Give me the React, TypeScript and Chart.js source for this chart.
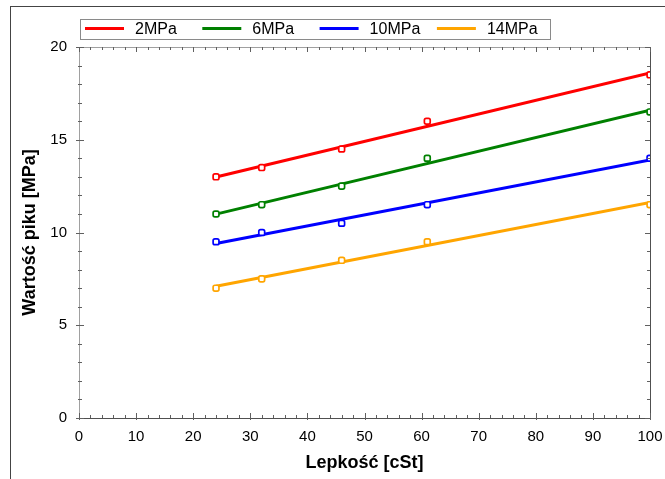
import React, { useEffect, useRef } from "react";
import { Chart, registerables } from "chart.js";

Chart.register(...registerables);

// ---- data ----
const viscosity = [24, 32, 46, 61, 100];
const seriesLabels = ["2MPa", "6MPa", "10MPa", "14MPa"];
const peak2MPa = [13, 13.5, 14.5, 16, 18.5];
const peak6MPa = [11, 11.5, 12.5, 14, 16.5];
const peak10MPa = [9.5, 10, 10.5, 11.5, 14];
const peak14MPa = [7, 7.5, 8.5, 9.5, 11.5];
const seriesColors = ["#ff0000", "#008000", "#0000ff", "#ffa500"];
const xAxisTitle = "Lepkość [cSt]";
const yAxisTitle = "Wartość piku [MPa]";
const xMin = 0;
const xMax = 100;
const xStep = 10;
const yMin = 0;
const yMax = 20;
const yStep = 5;

const seriesValues = [peak2MPa, peak6MPa, peak10MPa, peak14MPa];

const FONT = "'Liberation Sans', Arial, sans-serif";

// least squares linear fit of a series
function linearFit(xs: number[], ys: number[]) {
  const n = xs.length;
  const mx = xs.reduce((a, b) => a + b, 0) / n;
  const my = ys.reduce((a, b) => a + b, 0) / n;
  let sxy = 0;
  let sxx = 0;
  for (let i = 0; i < n; i++) {
    sxy += (xs[i] - mx) * (ys[i] - my);
    sxx += (xs[i] - mx) * (xs[i] - mx);
  }
  const slope = sxy / sxx;
  return { slope, intercept: my - slope * mx };
}

const axisFramePlugin = {
  id: "axisFrame",
  afterDatasetsDraw(chart: any) {
    const { ctx, chartArea } = chart;
    const { left, right, top, bottom } = chartArea;
    const xs = chart.scales.x;
    const ys = chart.scales.y;
    ctx.save();
    ctx.lineWidth = 1;
    // frame
    ctx.strokeStyle = "#a0a0a0";
    ctx.beginPath();
    ctx.moveTo(left + 0.5, bottom + 0.5);
    ctx.lineTo(left + 0.5, top + 0.5);
    ctx.lineTo(right + 0.5, top + 0.5);
    ctx.stroke();
    ctx.strokeStyle = "#505050";
    ctx.beginPath();
    ctx.moveTo(right + 0.5, top + 0.5);
    ctx.lineTo(right + 0.5, bottom + 0.5);
    ctx.lineTo(left + 0.5, bottom + 0.5);
    ctx.stroke();
    // ticks
    ctx.strokeStyle = "#606060";
    ctx.beginPath();
    for (let v = xMin; v <= xMax + 1e-9; v += xStep / 5) {
      const px = Math.round(xs.getPixelForValue(v)) + 0.5;
      const major = Math.abs(v / xStep - Math.round(v / xStep)) < 1e-6;
      ctx.moveTo(px, bottom + (major ? 2 : 0));
      ctx.lineTo(px, bottom - (major ? 5 : 3));
      ctx.moveTo(px, top);
      ctx.lineTo(px, top + (major ? 5 : 3));
    }
    for (let v = yMin; v <= yMax + 1e-9; v += yStep / 5) {
      const py = Math.round(ys.getPixelForValue(v)) + 0.5;
      const major = Math.abs(v / yStep - Math.round(v / yStep)) < 1e-6;
      ctx.moveTo(left - (major ? 3 : 1), py);
      ctx.lineTo(left + (major ? 5 : 3), py);
      ctx.moveTo(right, py);
      ctx.lineTo(right - (major ? 5 : 3), py);
    }
    ctx.stroke();
    ctx.restore();
  },
};

const boxedLegendPlugin = {
  id: "boxedLegend",
  afterDraw(chart: any) {
    const { ctx } = chart;
    const boxLeft = 80.5;
    const boxTop = 19.5;
    const boxW = 470;
    const boxH = 20;
    const colW = 117.3;
    const lineY = 28.5;
    ctx.save();
    ctx.strokeStyle = "#8a8a8a";
    ctx.lineWidth = 1;
    ctx.strokeRect(boxLeft, boxTop, boxW, boxH);
    ctx.font = `16px ${FONT}`;
    ctx.textBaseline = "middle";
    ctx.textAlign = "left";
    seriesLabels.forEach((label, i) => {
      const x0 = 85 + i * colW;
      ctx.strokeStyle = seriesColors[i];
      ctx.lineWidth = 3;
      ctx.beginPath();
      ctx.moveTo(x0, lineY);
      ctx.lineTo(x0 + 39, lineY);
      ctx.stroke();
      ctx.fillStyle = "#000";
      ctx.fillText(label, x0 + 50, 29.5);
    });
    ctx.restore();
  },
};

export default function App() {
  const canvasRef = useRef<HTMLCanvasElement | null>(null);

  useEffect(() => {
    if (!canvasRef.current) return;
    const datasets: any[] = [];
    seriesValues.forEach((vals, i) => {
      const fit = linearFit(viscosity, vals);
      const x0 = Math.min(...viscosity);
      const x1 = Math.max(...viscosity);
      datasets.push({
        type: "line",
        label: seriesLabels[i] + " fit",
        data: [
          { x: x0, y: fit.intercept + fit.slope * x0 },
          { x: x1, y: fit.intercept + fit.slope * x1 },
        ],
        borderColor: seriesColors[i],
        borderWidth: 3,
        pointRadius: 0,
        fill: false,
        order: 2,
      });
      datasets.push({
        type: "scatter",
        label: seriesLabels[i],
        data: viscosity.map((x, j) => ({ x, y: vals[j] })),
        borderColor: seriesColors[i],
        backgroundColor: "#ffffff",
        pointStyle: "rectRounded",
        pointRadius: 3.4,
        borderWidth: 1.7,
        showLine: false,
        order: 1,
      });
    });

    const chart = new Chart(canvasRef.current, {
      type: "scatter",
      data: { datasets },
      options: {
        animation: false,
        responsive: false,
        maintainAspectRatio: false,
        layout: { padding: { top: 47, right: 15, bottom: 0, left: 0 } },
        plugins: {
          legend: { display: false },
          tooltip: { enabled: false },
        },
        scales: {
          x: {
            type: "linear",
            min: xMin,
            max: xMax,
            grid: { display: false, drawTicks: false },
            border: { display: false },
            ticks: {
              stepSize: xStep,
              padding: 10,
              color: "#000",
              font: { family: FONT, size: 15 },
              maxRotation: 0,
            },
            title: {
              display: true,
              text: xAxisTitle,
              color: "#000",
              font: { family: FONT, size: 18, weight: "bold" },
              padding: { top: 0, bottom: 5 },
            },
            afterFit: (s: any) => {
              s.height = 61;
              s.paddingLeft = 0;
              s.paddingRight = 0;
            },
          },
          y: {
            type: "linear",
            min: yMin,
            max: yMax,
            grid: { display: false, drawTicks: false },
            border: { display: false },
            ticks: {
              stepSize: yStep,
              padding: 12,
              color: "#000",
              font: { family: FONT, size: 15 },
            },
            title: {
              display: true,
              text: yAxisTitle,
              color: "#000",
              font: { family: FONT, size: 18, weight: "bold" },
              padding: { top: 19, bottom: 0 },
            },
            afterFit: (s: any) => {
              s.width = 79;
              s.paddingTop = 0;
              s.paddingBottom = 0;
            },
          },
        },
      } as any,
      plugins: [axisFramePlugin, boxedLegendPlugin],
    });
    return () => chart.destroy();
  }, []);

  return (
    <div
      style={{
        position: "fixed",
        left: 0,
        top: 0,
        width: 665,
        height: 479,
        overflow: "hidden",
        background: "#fff",
      }}
    >
      <div
        style={{
          position: "absolute",
          left: 10,
          top: 6,
          width: 700,
          height: 520,
          border: "1px solid #444",
          boxSizing: "border-box",
        }}
      />
      <canvas
        ref={canvasRef}
        width={665}
        height={479}
        style={{ position: "absolute", left: 0, top: 0, display: "block", width: 665, height: 479 }}
      />
    </div>
  );
}
